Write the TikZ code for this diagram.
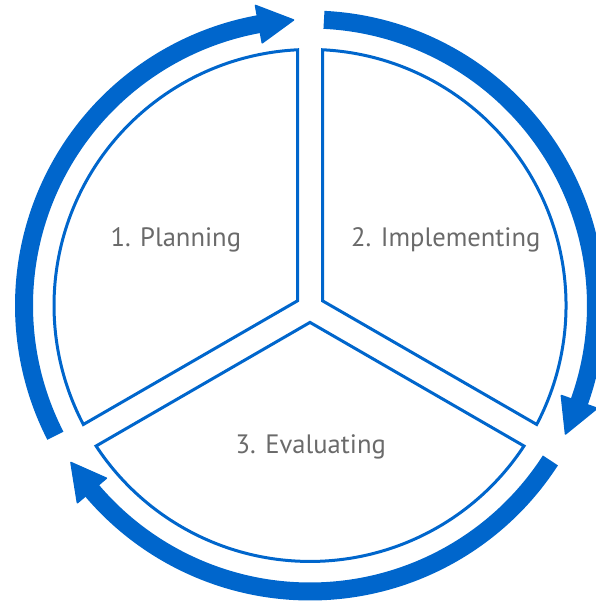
\documentclass[tikz,border=0pt]{standalone}
\usepackage{fontspec}
\setmainfont{PT Sans}
\definecolor{cblue}{HTML}{0066CC}
\definecolor{cgray}{HTML}{6A6A6A}
\begin{document}
\begin{tikzpicture}[x=1pt,y=1pt,
  sector/.style={draw=cblue, line width=3pt, line join=miter},
  ringbody/.style={draw=cblue, line width=18pt},
  headtri/.style={fill=cblue, draw=cblue, line width=1.5pt, line join=round},
  steptext/.style={text=cgray, font=\fontsize{26.6}{30}\selectfont, anchor=base, inner sep=0pt}]
\useasboundingbox (-310,-298.5) rectangle (285,305.5);
% sector corners
\coordinate (P0) at (-12.5,4.7);
\coordinate (P1) at (-12.5,255.7);
\coordinate (P2) at (-226.7,-118.95);
\coordinate (I0) at (12.5,4.7);
\coordinate (I1) at (12.5,255.7);
\coordinate (I2) at (226.7,-118.95);
\coordinate (E0) at (0,-16.9);
\coordinate (E1) at (214.0,-140.5);
\coordinate (E2) at (-214.0,-140.5);
% sectors
\draw[sector] (P0) -- (P1) arc[start angle=92.8, end angle=207.7, radius=256pt] -- cycle;
\draw[sector] (I0) -- (I2) arc[start angle=-27.7, end angle=87.2, radius=256pt] -- cycle;
\draw[sector] (E0) -- (E1) arc[start angle=-33.3, end angle=-146.7, radius=256pt] -- cycle;
% arrows
\coordinate (A0) at (207.1:286);
\coordinate (B0) at (87.2:286);
\coordinate (C0) at (-32.8:286);
\draw[ringbody] (A0) arc[start angle=207.1, end angle=99.8, radius=286pt];
\fill[headtri] (93.3:286) -- (100.3:305) -- (100.3:267) -- cycle;
\draw[ringbody] (B0) arc[start angle=87.2, end angle=-20.2, radius=286pt];
\fill[headtri] (-26.7:286) -- (-19.7:305) -- (-19.7:267) -- cycle;
\draw[ringbody] (C0) arc[start angle=-32.8, end angle=-140.2, radius=286pt];
\fill[headtri] (-146.7:286) -- (-139.7:305) -- (-139.7:267) -- cycle;
% labels
\node[steptext] (plan) at (-134.2,58.8) {1. Planning};
\node[steptext] (impl) at (135.8,58.8) {2. Implementing};
\node[steptext] (eval) at (0.8,-147.5) {3. Evaluating};
\end{tikzpicture}
\end{document}
